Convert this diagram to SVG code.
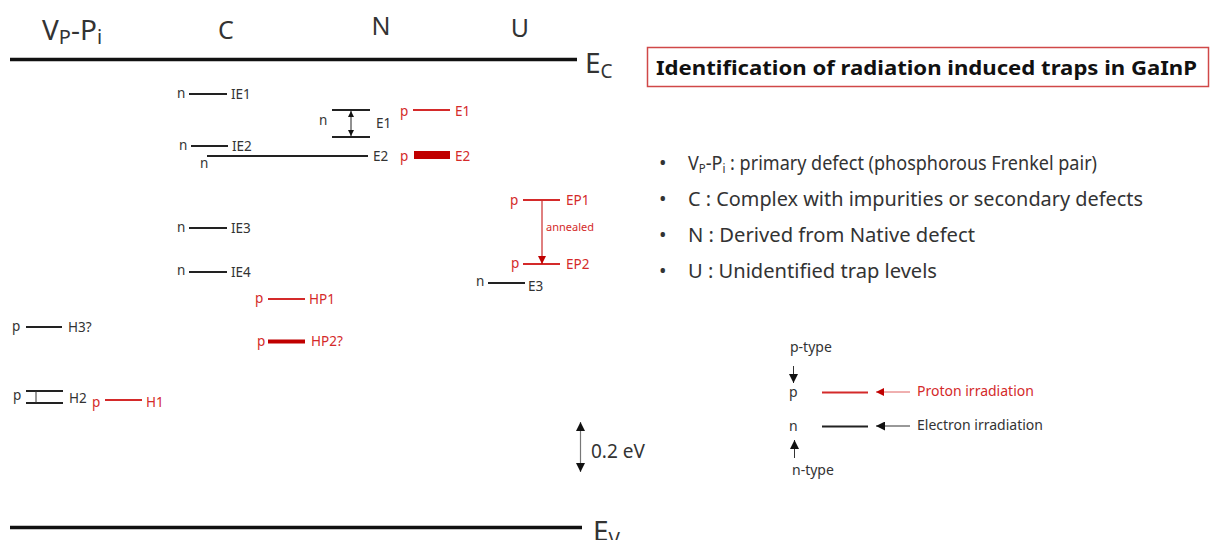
<svg xmlns="http://www.w3.org/2000/svg" width="1211" height="540" viewBox="0 0 1211 540">
<defs>
<style>
text{font-family:"Noto Sans","Open Sans","DejaVu Sans",sans-serif;fill:#333;}
.hdr{font-size:25px;}
.lbl{font-size:13.5px;}
.red{fill:#d42a2a;}
.lg{font-size:14px;}
.bl{font-size:19px;}
.dot{font-size:20px;}
.lvl{stroke:#222;stroke-width:2;}
.lvlr{stroke:#d42a2a;stroke-width:2;}
.band{stroke:#111;stroke-width:3.5;}
</style>
<marker id="ahk" viewBox="0 0 10 10" refX="10" refY="5" markerWidth="6" markerHeight="6" orient="auto-start-reverse" markerUnits="userSpaceOnUse"><path d="M0,0L10,5L0,10z" fill="#111"/></marker>
<marker id="ahr" viewBox="0 0 10 10" refX="10" refY="5" markerWidth="8" markerHeight="8" orient="auto" markerUnits="userSpaceOnUse"><path d="M0,0L10,5L0,10z" fill="#c00000"/></marker>
<marker id="ahk8" viewBox="0 0 10 10" refX="10" refY="5" markerWidth="9" markerHeight="9" orient="auto-start-reverse" markerUnits="userSpaceOnUse"><path d="M0,0L10,5L0,10z" fill="#111"/></marker>
</defs>

<g id="bands">
<line class="band" x1="10" y1="59.5" x2="577" y2="59.5"/>
<text x="585" y="73" style="font-size:28px">E<tspan dy="5" style="font-size:19px">C</tspan></text>
<line class="band" x1="10" y1="527.5" x2="582" y2="527.5"/>
<text x="593" y="541" style="font-size:28px">E<tspan dy="5" style="font-size:19px">V</tspan></text>
</g>

<g id="headers">
<text x="42" y="40" style="font-size:28px">V<tspan dy="4" style="font-size:20px">P</tspan><tspan dy="-4">-P</tspan><tspan dy="4" style="font-size:20px">i</tspan></text>
<text class="hdr" x="226" y="39" text-anchor="middle">C</text>
<text class="hdr" x="381" y="35" text-anchor="middle">N</text>
<text class="hdr" x="520" y="37" text-anchor="middle">U</text>
</g>

<g id="title">
<rect x="647.5" y="47.5" width="561" height="39" fill="#fff" stroke="#d04848" stroke-width="1.5"/>
<text x="656" y="75" style="font-size:19px;font-weight:bold;fill:#111" textLength="541" lengthAdjust="spacingAndGlyphs">Identification of radiation induced traps in GaInP</text>
</g>

<g id="bullets">
<text class="dot" x="659" y="170">•</text>
<text class="bl" x="688" y="170" textLength="409" lengthAdjust="spacingAndGlyphs">V<tspan dy="3" style="font-size:12px">P</tspan><tspan dy="-3">-P</tspan><tspan dy="3" style="font-size:12px">i</tspan><tspan dy="-3"> : primary defect (phosphorous Frenkel pair)</tspan></text>
<text class="dot" x="659" y="206">•</text>
<text class="bl" x="688" y="206" textLength="455" lengthAdjust="spacingAndGlyphs">C : Complex with impurities or secondary defects</text>
<text class="dot" x="659" y="242">•</text>
<text class="bl" x="688" y="242" textLength="287" lengthAdjust="spacingAndGlyphs">N : Derived from Native defect</text>
<text class="dot" x="659" y="278">•</text>
<text class="bl" x="688" y="278" textLength="249" lengthAdjust="spacingAndGlyphs">U : Unidentified trap levels</text>
</g>

<g id="IE1">
<text class="lbl" x="177" y="98">n</text>
<line class="lvl" x1="189" y1="94" x2="227" y2="94"/>
<text class="lbl" x="231" y="99">IE1</text>
</g>
<g id="IE2">
<text class="lbl" x="179" y="150">n</text>
<line class="lvl" x1="191" y1="146" x2="228" y2="146"/>
<text class="lbl" x="232" y="151">IE2</text>
</g>
<g id="IE3">
<text class="lbl" x="177" y="232">n</text>
<line class="lvl" x1="189" y1="228" x2="227" y2="228"/>
<text class="lbl" x="231" y="233">IE3</text>
</g>
<g id="IE4">
<text class="lbl" x="177" y="275">n</text>
<line class="lvl" x1="189" y1="272" x2="227" y2="272"/>
<text class="lbl" x="231" y="277">IE4</text>
</g>

<g id="E1n">
<text class="lbl" x="319" y="125">n</text>
<line class="lvl" x1="332" y1="110" x2="370" y2="110"/>
<line class="lvl" x1="332" y1="137" x2="370" y2="137"/>
<text class="lbl" x="376" y="128">E1</text>
</g>
<g id="E2n">
<line class="lvl" x1="207" y1="156" x2="368" y2="156"/>
<text class="lbl" x="200" y="168">n</text>
<text class="lbl" x="373" y="161">E2</text>
</g>
<g id="E1p">
<text class="lbl red" x="400" y="116">p</text>
<line class="lvlr" x1="413" y1="110" x2="450" y2="110"/>
<text class="lbl red" x="455" y="116">E1</text>
</g>
<g id="E2p">
<text class="lbl red" x="400" y="161">p</text>
<rect x="414" y="151" width="36" height="8" fill="#c00000"/>
<text class="lbl red" x="455" y="161">E2</text>
</g>
<g id="EP1">
<text class="lbl red" x="510" y="205">p</text>
<line class="lvlr" x1="523" y1="200" x2="560" y2="200"/>
<text class="lbl red" x="566" y="205">EP1</text>
</g>
<g id="EP2">
<text class="lbl red" x="511" y="268">p</text>
<line class="lvlr" x1="523" y1="264" x2="560" y2="264"/>
<text class="lbl red" x="566" y="269">EP2</text>
</g>
<g id="E3">
<text class="lbl" x="476" y="286">n</text>
<line class="lvl" x1="488" y1="283" x2="525" y2="283"/>
<text class="lbl" x="528" y="291">E3</text>
</g>
<g id="HP1">
<text class="lbl red" x="255" y="303">p</text>
<line class="lvlr" x1="268" y1="299" x2="305" y2="299"/>
<text class="lbl red" x="309" y="304">HP1</text>
</g>
<g id="HP2">
<text class="lbl red" x="257" y="346">p</text>
<line stroke="#c00000" stroke-width="4" x1="268" y1="341.5" x2="305" y2="341.5"/>
<text class="lbl red" x="311" y="346">HP2?</text>
</g>
<g id="H3">
<text class="lbl" x="12" y="331">p</text>
<line class="lvl" x1="26" y1="327" x2="62" y2="327"/>
<text class="lbl" x="68" y="332">H3?</text>
</g>
<g id="H2">
<text class="lbl" x="13" y="400">p</text>
<line class="lvl" x1="26" y1="391" x2="63" y2="391"/>
<line class="lvl" x1="26" y1="403" x2="63" y2="403"/>
<line stroke="#333" stroke-width="1" x1="36" y1="391" x2="36" y2="403"/>
<text class="lbl" x="69" y="403">H2</text>
</g>
<g id="H1">
<text class="lbl red" x="92" y="407">p</text>
<line class="lvlr" x1="105" y1="400" x2="142" y2="400"/>
<text class="lbl red" x="146" y="407">H1</text>
</g>

<g id="scale">
<line stroke="#777" stroke-width="1.2" x1="580.5" y1="422" x2="580.5" y2="472" marker-start="url(#ahk8)" marker-end="url(#ahk8)"/>
<text x="591" y="458" style="font-size:19px">0.2 eV</text>
</g>

<g id="legend">
<text class="lg" x="790" y="352">p-type</text>
<text class="lg" x="789" y="397">p</text>
<line class="lvlr" x1="822" y1="392.5" x2="868" y2="392.5"/>
<text class="lg red" x="917" y="396">Proton irradiation</text>
<text class="lg" x="789" y="431">n</text>
<line class="lvl" x1="822" y1="426.5" x2="868" y2="426.5"/>
<text class="lg" x="917" y="430">Electron irradiation</text>
<text class="lg" x="792" y="475">n-type</text>
</g>

<g id="connectors">
<line stroke="#222" stroke-width="1" x1="351" y1="111" x2="351" y2="136" marker-start="url(#ahk)" marker-end="url(#ahk)"/>
<line stroke="#c00000" stroke-width="1" x1="542" y1="201" x2="542" y2="264" marker-end="url(#ahr)"/>
<text x="546" y="231" style="font-size:11px;fill:#d42a2a">annealed</text>
<line stroke="#e06060" stroke-width="1" x1="910" y1="392" x2="876" y2="392" marker-end="url(#ahr)"/>
<line stroke="#333" stroke-width="1" x1="910" y1="426" x2="876" y2="426" marker-end="url(#ahk8)"/>
<line stroke="#333" stroke-width="1" x1="793.5" y1="366" x2="793.5" y2="383" marker-end="url(#ahk8)"/>
<line stroke="#333" stroke-width="1" x1="794.5" y1="458" x2="794.5" y2="440" marker-end="url(#ahk8)"/>
</g>
</svg>
